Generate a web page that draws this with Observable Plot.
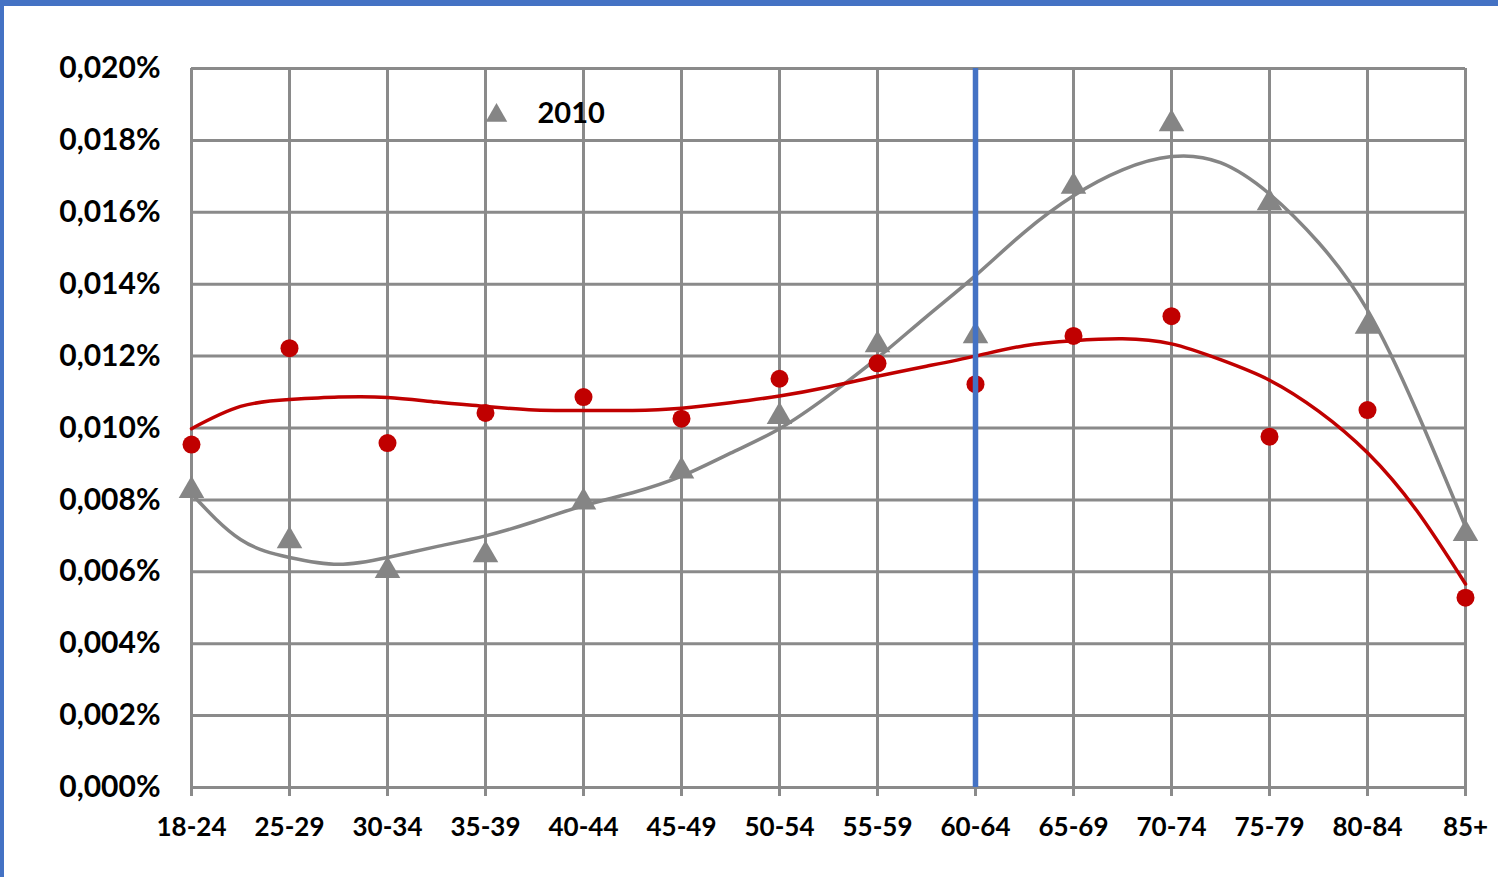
<!DOCTYPE html>
<html>
<head>
<meta charset="utf-8">
<script src="https://cdn.jsdelivr.net/npm/d3@7"></script>
<script src="https://cdn.jsdelivr.net/npm/@observablehq/plot@0.6"></script>
<style>
  html, body { margin: 0; padding: 0; background: #fff; overflow: hidden; }
  #frame { width: 1494px; height: 871px; border-top: 6px solid #4472C4; border-left: 4px solid #4472C4; background: #fff; }
  #frame svg { display: block; }
</style>
</head>
<body>
<div id="frame"></div>
<script>
// Age-group categories (x axis)
const categories = ["18-24","25-29","30-34","35-39","40-44","45-49","50-54","55-59","60-64","65-69","70-74","75-79","80-84","85+"];

// Series values, in percent units (0.010 = 0,010%)
const redValues  = [0.00954,0.01222,0.00958,0.01042,0.01086,0.01026,0.01137,0.01180,0.01122,0.01256,0.01311,0.00976,0.01050,0.00528];
const grayValues = [0.00826,0.00686,0.00603,0.00647,0.00794,0.00880,0.01032,0.01231,0.01256,0.01672,0.01846,0.01626,0.01283,0.00706];

// Trend curves at each half category step
const trendPos   = [0,0.5,1,1.5,2,2.5,3,3.5,4,4.5,5,5.5,6,6.5,7,7.5,8,8.5,9,9.5,10,10.5,11,11.5,12,12.5,13];
const redTrend   = [0.00998,0.01060,0.01079,0.01086,0.01085,0.01072,0.01060,0.01050,0.01049,0.01049,0.01055,0.01070,0.01089,0.01114,0.01144,0.01172,0.01200,0.01229,0.01243,0.01248,0.01234,0.01190,0.01133,0.01047,0.00931,0.00771,0.00566];
const grayTrend  = [0.00817,0.00690,0.00640,0.00621,0.00640,0.00670,0.00700,0.00740,0.00784,0.00820,0.00866,0.00930,0.00998,0.01090,0.01195,0.01310,0.01424,0.01545,0.01646,0.01718,0.01755,0.01738,0.01651,0.01516,0.01328,0.01048,0.00725];

// Y tick values
const yTicks = [0,0.002,0.004,0.006,0.008,0.010,0.012,0.014,0.016,0.018,0.020];
const markerCategory = "60-64";
const legendLabel = "2010";

const idx = categories.map((_, i) => i);
const redData = idx.map(i => ({x: i, y: redValues[i]}));
const grayData = idx.map(i => ({x: i, y: grayValues[i]}));
const redTrendData = trendPos.map((p, i) => ({x: p, y: redTrend[i]}));
const grayTrendData = trendPos.map((p, i) => ({x: p, y: grayTrend[i]}));
const fmt = v => d3.format(".3f")(v).replace(".", ",") + "%";

const gridColor = "#8a8a8a";
const grayColor = "#858585";
const redColor = "#C00000";

const chart = Plot.plot({
  width: 1494,
  height: 871,
  marginLeft: 187,
  marginRight: 33,
  marginTop: 62,
  marginBottom: 90,
  style: { fontFamily: "Lato, 'Open Sans', sans-serif", fontWeight: 700, background: "#fff", color: "#000" },
  x: { domain: [0, categories.length - 1], label: null },
  y: { domain: [0, 0.020], label: null },
  marks: [
    Plot.ruleY(yTicks, { stroke: gridColor, strokeWidth: 3 }),
    Plot.ruleX(idx, { stroke: gridColor, strokeWidth: 3 }),
    Plot.axisX({ ticks: idx, tickFormat: i => categories[i], tickSize: 9, tickPadding: 21, stroke: gridColor, strokeWidth: 3, fill: "#000", fontSize: 26, fontWeight: 700 }),
    Plot.axisY({ ticks: yTicks, tickFormat: fmt, tickSize: 0, tickPadding: 31, fill: "#000", fontSize: 30, fontWeight: 700 }),
    Plot.line(grayTrendData, { x: "x", y: "y", stroke: grayColor, strokeWidth: 3.5, curve: "natural" }),
    Plot.line(redTrendData, { x: "x", y: "y", stroke: redColor, strokeWidth: 3.5, curve: "natural" }),
    Plot.dot(grayData, { x: "x", y: "y", symbol: "triangle", r: 9.5, fill: grayColor, stroke: "none" }),
    Plot.dot(redData, { x: "x", y: "y", symbol: "circle", r: 9, fill: redColor, stroke: "none" }),
    Plot.ruleX([categories.indexOf(markerCategory)], { stroke: "#4472C4", strokeWidth: 5.5 }),
    Plot.dot([legendLabel], { frameAnchor: "top-left", dx: 305, dy: 47, symbol: "triangle", r: 8, fill: grayColor, stroke: "none" }),
    Plot.text([legendLabel], { frameAnchor: "top-left", dx: 346, dy: 45, lineAnchor: "middle", text: d => d, textAnchor: "start", fontSize: 29, fontWeight: 700, fill: "#000" })
  ]
});
document.getElementById("frame").appendChild(chart);
</script>
</body>
</html>
